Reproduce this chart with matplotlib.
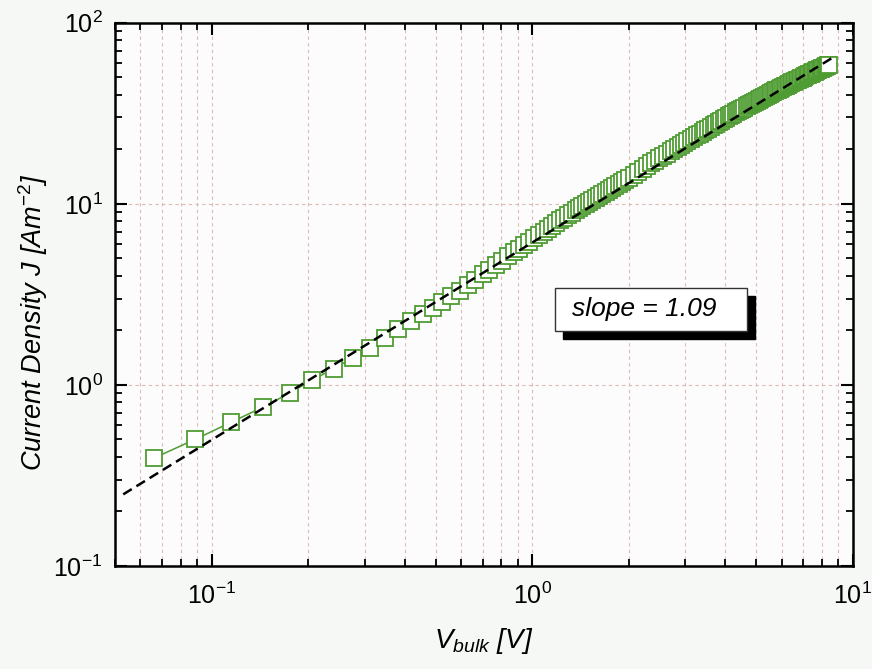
import matplotlib
matplotlib.use("Agg")
import matplotlib.pyplot as plt
from matplotlib.patches import Rectangle

# Vbulk [V] and current density J [A m^-2]
v_bulk = [0.066, 0.089, 0.115, 0.145, 0.175, 0.206, 0.240, 0.276, 0.311, 0.347, 0.382, 0.420,
          0.455, 0.490, 0.525, 0.560, 0.595, 0.630, 0.665, 0.700, 0.735, 0.770, 0.805, 0.840,
          0.875, 0.910, 0.945, 0.980, 1.015, 1.050, 1.085, 1.120, 1.155, 1.190, 1.225, 1.260,
          1.295, 1.330, 1.365, 1.400,
          1.434, 1.468, 1.503, 1.539, 1.576, 1.614, 1.653, 1.693, 1.733, 1.775, 1.817, 1.861,
          1.906, 1.951, 1.998,
          2.07, 2.14, 2.21, 2.28, 2.35, 2.42, 2.49, 2.56, 2.63, 2.70, 2.77, 2.84, 2.91, 2.98,
          3.05, 3.12, 3.19, 3.26, 3.33, 3.40, 3.47, 3.54, 3.61, 3.68, 3.75, 3.82, 3.89, 3.96,
          4.03, 4.10, 4.17, 4.24, 4.31, 4.38, 4.45, 4.52, 4.59, 4.66, 4.73, 4.80, 4.87, 4.94,
          5.01, 5.08, 5.15, 5.22, 5.29, 5.36, 5.43, 5.50, 5.57, 5.64, 5.71, 5.78, 5.85, 5.92,
          5.99, 6.06, 6.13, 6.20, 6.27, 6.34, 6.41, 6.48, 6.55, 6.62, 6.69, 6.76, 6.83, 6.90,
          6.97, 7.04, 7.11, 7.18, 7.25, 7.32, 7.39, 7.46, 7.53, 7.60, 7.67, 7.74, 7.81, 7.88,
          7.95, 8.02, 8.09, 8.16, 8.23, 8.30, 8.37, 8.43]

j_dens = [0.394, 0.501, 0.622, 0.756, 0.900, 1.066, 1.226, 1.415, 1.608, 1.810, 2.030, 2.264,
          2.466, 2.666, 2.872, 3.091, 3.320, 3.566, 3.817, 4.074, 4.329, 4.582, 4.854, 5.124,
          5.390, 5.660, 5.916, 6.174, 6.445, 6.720, 6.998, 7.280, 7.554, 7.830, 8.097, 8.366,
          8.638, 8.924, 9.200, 9.478,
          9.751, 9.997, 10.265, 10.527, 10.796, 11.088, 11.373, 11.665, 11.975, 12.283, 12.592, 12.934,
          13.266, 13.598, 13.966,
          14.517, 15.058, 15.601, 16.148, 16.699, 17.252, 17.808, 18.367, 18.931, 19.497, 20.066,
          20.638, 21.214, 21.748, 22.283, 22.817, 23.354, 23.893, 24.432, 24.973, 25.511, 26.054,
          26.598, 27.144, 27.690, 28.234, 28.778, 29.320, 29.862, 30.402, 30.941, 31.469, 31.993,
          32.508, 33.019, 33.520, 34.021, 34.517, 35.011, 35.506, 35.999, 36.492, 36.984, 37.475,
          37.966, 38.451, 38.934, 39.417, 39.900, 40.381, 40.862, 41.341, 41.814, 42.286, 42.752,
          43.216, 43.673, 44.123, 44.571, 45.018, 45.464, 45.908, 46.351, 46.792, 47.232, 47.671,
          48.108, 48.544, 48.978, 49.411, 49.842, 50.273, 50.701, 51.129, 51.555, 51.979, 52.402,
          52.824, 53.245, 53.664, 54.081, 54.497, 54.912, 55.325, 55.737, 56.148, 56.557, 56.965,
          57.371, 57.776, 58.180, 58.546]

# power law fit J = A * V^slope
fit_slope = 1.09
fit_amp = 6.11
fit_v = [0.053, 8.6]

plt.rcParams['font.family'] = ['Liberation Sans', 'DejaVu Sans']
plt.rcParams['mathtext.fontset'] = 'custom'
plt.rcParams['mathtext.rm'] = 'Liberation Sans'
plt.rcParams['mathtext.it'] = 'Liberation Sans:italic'
plt.rcParams['mathtext.default'] = 'regular'

bg = '#f6f8f6'
fig = plt.figure(figsize=(8.72, 6.69), dpi=100, facecolor=bg)
ax = fig.add_axes([0.132, 0.154, 0.846, 0.812], facecolor='#fbfcfb')

ax.set_xscale('log')
ax.set_yscale('log')
ax.set_xlim(0.05, 10)
ax.set_ylim(0.1, 100)

ax.grid(True, which='both', axis='x', color='#dfb9b9', lw=0.8, ls=(0, (3, 3)))
ax.grid(True, which='major', axis='y', color='#dfb9b9', lw=0.8, ls=(0, (3, 3)))

green = '#4f9c33'
ax.plot(v_bulk, j_dens, '-', color=green, lw=1.1, marker='s', ms=11.5,
        mfc='white', mec=green, mew=1.3, zorder=3)

fit_j = [fit_amp * v ** fit_slope for v in fit_v]
ax.plot(fit_v, fit_j, color='black', lw=1.8, dashes=(4, 2.2), zorder=4)

for s in ax.spines.values():
    s.set_linewidth(1.8)
ax.tick_params(which='both', direction='in', top=True, right=True, labelsize=18, pad=9)
ax.tick_params(which='major', length=8.5, width=1.5)
ax.tick_params(which='minor', length=5, width=1.3)
ax.tick_params(axis='x', pad=12)

ax.set_xlabel('V$_{\\mathit{bulk}}$ [V]', fontsize=20, style='italic', labelpad=12)
ax.set_ylabel('Current Density J [Am$^{\\mathit{-2}}$]', fontsize=19.5, style='italic')
ax.yaxis.set_label_coords(-0.088, 0.45)

# slope label box with a drop shadow
ax.add_patch(Rectangle((0.607, 0.418), 0.26, 0.079, transform=ax.transAxes,
                       facecolor='black', edgecolor='black', zorder=5))
ax.add_patch(Rectangle((0.596, 0.433), 0.26, 0.079, transform=ax.transAxes,
                       facecolor='white', edgecolor='#333333', lw=1.0, zorder=6))
ax.text(0.717, 0.473, 'slope = 1.09', transform=ax.transAxes, fontsize=19,
        style='italic', ha='center', va='center', zorder=7)

fig.savefig('out.png', dpi=100, facecolor=bg)
